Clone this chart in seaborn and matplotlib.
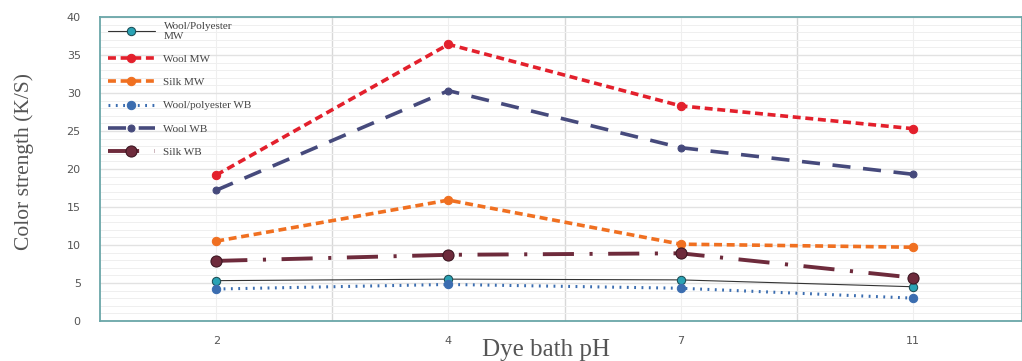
import matplotlib
matplotlib.use("Agg")
import matplotlib.pyplot as plt
import seaborn as sns
from matplotlib.ticker import MultipleLocator

ph = ["2", "4", "7", "11"]

wool_poly_mw = [5.3, 5.5, 5.4, 4.5]
wool_mw = [19.2, 36.4, 28.3, 25.3]
silk_mw = [10.5, 15.9, 10.1, 9.7]
wool_poly_wb = [4.2, 4.8, 4.3, 3.0]
wool_wb = [17.2, 30.3, 22.8, 19.3]
silk_wb = [7.9, 8.7, 8.9, 5.7]

labels = ["Wool/Polyester\nMW", "Wool MW", "Silk MW",
          "Wool/polyester WB", "Wool WB", "Silk WB"]

sns.set_theme(style="white")
plt.rcParams["font.family"] = ["DejaVu Sans"]

fig = plt.figure(figsize=(10.22, 3.61), dpi=100)
ax = fig.add_axes([0.098, 0.111, 0.902, 0.842])

series = [
    (wool_poly_mw, dict(color="#333333", linewidth=0.8, linestyle="-", marker="o",
                        markersize=6, markerfacecolor="#2aa3b5", markeredgecolor="#1d4d55")),
    (wool_mw, dict(color="#e3202c", linewidth=2.6, linestyle=(0, (2.2, 1.3)), marker="o",
                   markersize=6, markerfacecolor="#e3202c", markeredgecolor="#e3202c")),
    (silk_mw, dict(color="#f07021", linewidth=2.6, linestyle=(0, (2.2, 1.3)), marker="o",
                   markersize=6, markerfacecolor="#f07021", markeredgecolor="#f07021")),
    (wool_poly_wb, dict(color="#3b6db0", linewidth=2.2, linestyle=(0, (0.6, 1.8)), marker="o",
                        markersize=6, markerfacecolor="#3b6db0", markeredgecolor="#3b6db0")),
    (wool_wb, dict(color="#464a7c", linewidth=2.6, linestyle=(0, (5, 3.5)), marker="o",
                   markersize=5, markerfacecolor="#464a7c", markeredgecolor="#464a7c")),
    (silk_wb, dict(color="#6e2b3c", linewidth=2.8, linestyle=(0, (8, 4, 0.8, 4)), marker="o",
                   markersize=8, markerfacecolor="#6e2b3c", markeredgecolor="#3a1520")),
]

for (vals, kw), lab in zip(series, labels):
    sns.lineplot(x=ph, y=vals, ax=ax, label=lab, **kw)

ax.set_xlim(-0.5, 3.47)
ax.set_ylim(0, 40)
ax.yaxis.set_major_locator(MultipleLocator(5))
ax.yaxis.set_minor_locator(MultipleLocator(1))
ax.set_xticks([0.5, 1.5, 2.5], minor=True)

ax.grid(True, which="major", axis="y", color="#e2e2e2", linewidth=1.0)
ax.grid(True, which="minor", axis="y", color="#efefef", linewidth=0.7)
ax.grid(True, which="major", axis="x", color="#efefef", linewidth=0.8)
ax.grid(True, which="minor", axis="x", color="#d8d8d8", linewidth=1.0)
ax.set_axisbelow(True)

for sp in ax.spines.values():
    sp.set_color("#6aa6a8")
    sp.set_linewidth(1.3)

ax.tick_params(axis="both", which="both", length=0, labelsize=8, colors="#555555")
ax.tick_params(axis="x", pad=11)
ax.tick_params(axis="y", pad=14)

ax.set_xlabel("Dye bath pH", family="Liberation Serif", fontsize=18, color="#555555")
ax.xaxis.set_label_coords(0.484, -0.06)
ax.set_ylabel("Color strength (K/S)", family="Liberation Serif", fontsize=15.5,
              color="#555555")
ax.yaxis.set_label_coords(-0.072, 0.525)

leg = ax.legend(loc="upper left", frameon=False, handlelength=4.2, labelspacing=1.2,
                prop={"family": "Liberation Serif", "size": 8},
                bbox_to_anchor=(0.0, 1.01), borderaxespad=0.3)
for t in leg.get_texts():
    t.set_color("#444444")

fig.savefig("out.png", dpi=100)
